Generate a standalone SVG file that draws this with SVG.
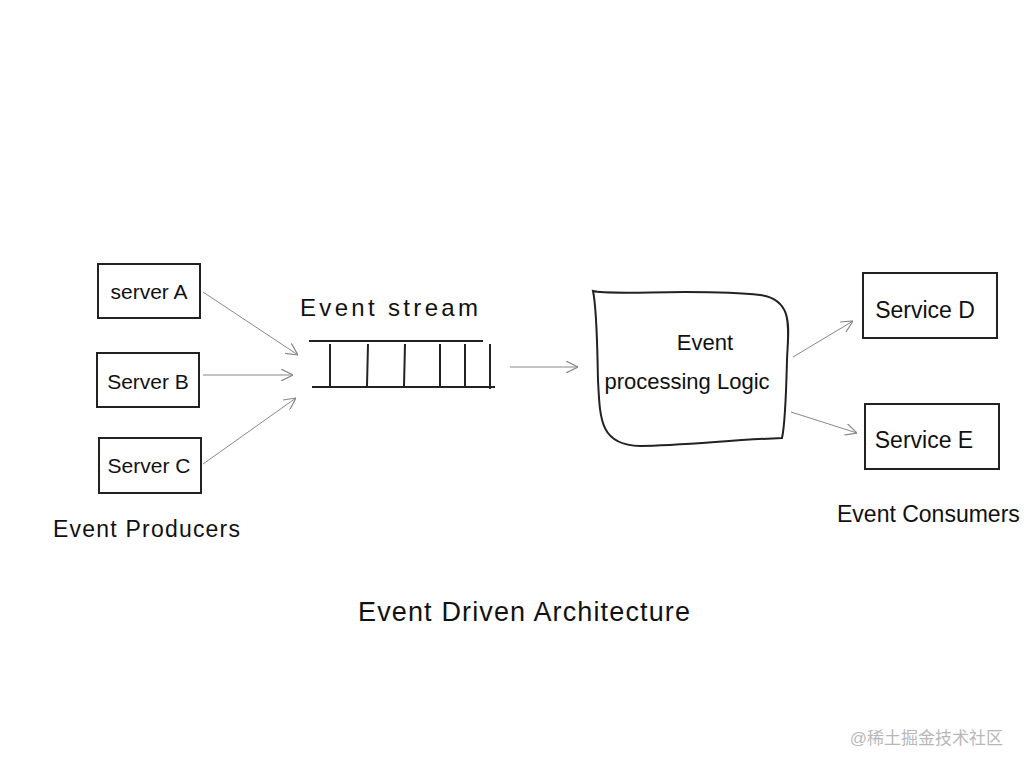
<svg xmlns="http://www.w3.org/2000/svg" width="1024" height="768" viewBox="0 0 1024 768">
<defs>
<style>
.box{fill:none;stroke:#222;stroke-width:2}
.t{font-family:"Liberation Sans","DejaVu Sans",sans-serif;fill:#111}
.c{stroke:#888;stroke-width:1;fill:none}
.q{stroke:#222;stroke-width:2;fill:none}
</style>
<marker id="ah" viewBox="0 0 10 10" refX="10" refY="5" markerWidth="12" markerHeight="12" markerUnits="userSpaceOnUse" orient="auto"><path d="M0,0 L10,5 L0,10" fill="none" stroke="#888" stroke-width="1"/></marker>
</defs>
<rect width="1024" height="768" fill="#fff"/>
<g id="serverA"><rect class="box" x="98" y="264" width="102" height="54"/><text class="t" x="149" y="299" font-size="21" text-anchor="middle">server A</text></g>
<g id="serverB"><rect class="box" x="97" y="353" width="102" height="54"/><text class="t" x="148" y="389" font-size="21" text-anchor="middle">Server B</text></g>
<g id="serverC"><rect class="box" x="99" y="438" width="102" height="55"/><text class="t" x="149" y="473" font-size="21" text-anchor="middle">Server C</text></g>
<g id="stream">
<text class="t" x="300" y="316" font-size="24" textLength="178" lengthAdjust="spacing">Event stream</text>
<path class="q" d="M309,341 L483,341 M312,387 L495,387 M330,344 L330,388 M368,344 L367,386 M405,344 L404,386 M440,344 L440,387 M465,344 L465,387 M490,344 L490,389"/>
</g>
<g id="logic">
<path class="box" d="M593,291 C610,296 700,288 760,295 C795,300 788,330 787,360 C786,400 785,425 782,438 C730,440 680,446 640,446 C600,445 600,420 598,380 C597,340 597,310 593,291 Z"/>
<text class="t" x="705" y="350" font-size="22" text-anchor="middle">Event</text>
<text class="t" x="687" y="389" font-size="22" text-anchor="middle">processing Logic</text>
</g>
<g id="serviceD"><rect class="box" x="863" y="273" width="134" height="65"/><text class="t" x="925" y="318" font-size="23" text-anchor="middle">Service D</text></g>
<g id="serviceE"><rect class="box" x="865" y="404" width="134" height="65"/><text class="t" x="924" y="448" font-size="23" text-anchor="middle">Service E</text></g>
<g id="connectors">
<line class="c" x1="203" y1="292" x2="298" y2="355" marker-end="url(#ah)"/>
<line class="c" x1="203" y1="375" x2="293" y2="375" marker-end="url(#ah)"/>
<line class="c" x1="203" y1="464" x2="296" y2="398" marker-end="url(#ah)"/>
<line class="c" x1="510" y1="367" x2="578" y2="367" marker-end="url(#ah)"/>
<line class="c" x1="793" y1="357" x2="853" y2="321" marker-end="url(#ah)"/>
<line class="c" x1="791" y1="412" x2="857" y2="433" marker-end="url(#ah)"/>
</g>
<text class="t" x="53" y="537" font-size="23" textLength="187" lengthAdjust="spacing">Event Producers</text>
<text class="t" x="837" y="522" font-size="23">Event Consumers</text>
<text class="t" x="358" y="621" font-size="27" textLength="332" lengthAdjust="spacing">Event Driven Architecture</text>
<text x="1003" y="744" font-size="17" text-anchor="end" fill="#b8b8b8" font-family="'Liberation Sans','Noto Sans CJK SC',sans-serif">@稀土掘金技术社区</text>
</svg>
